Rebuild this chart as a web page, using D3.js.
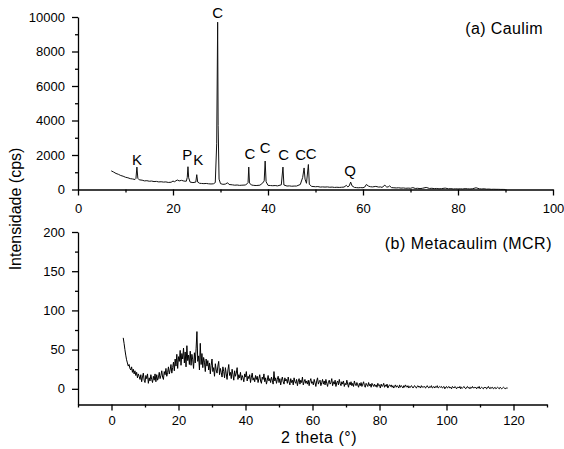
<!DOCTYPE html>
<html>
<head>
<meta charset="utf-8">
<script src="https://cdn.jsdelivr.net/npm/d3@7"></script>
<style>
  body { margin: 0; background: #fff; }
  svg text { font-family: "Liberation Sans", Arial, sans-serif; fill: #000; }
</style>
</head>
<body>
<div id="chart"></div>
<script>
// (a) Caulim: [2theta, intensity cps]
const caulim = [
  [7.0, 1080], [7.5, 1010], [8.0, 930], [8.5, 880], [9.0, 810], [9.5, 770], [10.0, 710], [10.5, 680],
  [11.0, 630], [11.5, 610], [12.0, 580], [12.2, 640], [12.4, 1300], [12.6, 650], [12.9, 560], [13.5, 540],
  [14.0, 500], [14.5, 510], [15.0, 480], [15.5, 490], [16.0, 460], [16.5, 470], [17.0, 440], [17.5, 450],
  [18.0, 430], [18.5, 440], [19.0, 410], [19.6, 420], [20.0, 490], [20.3, 450], [20.9, 550], [21.3, 500],
  [21.8, 530], [22.3, 490], [22.8, 480], [23.0, 700], [23.15, 1320], [23.3, 680], [23.6, 430], [24.2, 400],
  [24.8, 430], [25.0, 860], [25.2, 430], [25.6, 360], [26.0, 350], [26.5, 340], [27.0, 350], [27.5, 330],
  [28.0, 320], [28.5, 330], [28.9, 400], [29.2, 2650], [29.4, 9700], [29.5, 3700], [29.7, 600], [30.0, 340],
  [30.5, 300], [31.0, 310], [31.5, 390], [31.8, 290], [32.5, 270], [33.0, 250], [33.5, 260], [34.0, 240],
  [34.5, 250], [35.3, 260], [35.8, 400], [35.95, 1300], [36.1, 380], [36.5, 260], [37.0, 240], [37.5, 230],
  [38.3, 250], [38.9, 380], [39.2, 500], [39.4, 1650], [39.6, 450], [40.0, 240], [40.5, 230], [41.0, 220],
  [41.5, 230], [42.0, 210], [42.8, 270], [43.15, 1300], [43.35, 260], [44.0, 200], [44.5, 210], [45.0, 190],
  [45.5, 200], [46.0, 200], [46.8, 290], [47.3, 700], [47.6, 1250], [47.8, 600], [48.1, 360], [48.5, 1450],
  [48.7, 300], [49.2, 180], [50.0, 160], [50.5, 170], [51.0, 140], [51.5, 150], [52.0, 140], [52.5, 150],
  [53.0, 130], [53.5, 140], [54.0, 120], [54.5, 130], [55.0, 120], [55.5, 130], [56.0, 140], [56.5, 240],
  [56.8, 150], [57.1, 210], [57.4, 430], [57.7, 210], [58.2, 120], [58.6, 110], [59.0, 100], [59.5, 110],
  [60.0, 100], [60.4, 150], [60.7, 290], [61.2, 190], [61.6, 160], [62.0, 150], [62.7, 180], [63.3, 140],
  [63.7, 150], [64.0, 120], [64.6, 250], [65.0, 140], [65.3, 150], [65.6, 210], [66.0, 110], [66.5, 100],
  [67.0, 90], [67.5, 100], [68.0, 80], [68.5, 90], [69.0, 70], [69.5, 80], [70.0, 70], [70.5, 110],
  [71.0, 60], [71.5, 70], [72.0, 50], [72.5, 70], [73.3, 120], [74.0, 60], [74.5, 70], [75.0, 50],
  [75.5, 60], [76.0, 40], [76.5, 50], [77.3, 80], [78.0, 40], [78.5, 50], [79.0, 30], [79.5, 40],
  [80.0, 30], [80.5, 40], [81.0, 30], [81.5, 50], [82.0, 40], [82.5, 30], [83.0, 40], [83.8, 100],
  [84.5, 40], [85.0, 30], [85.5, 40], [86.0, 20], [86.5, 25], [87.0, 10], [87.5, 15], [88.0, 10],
  [88.5, 10], [89.0, 5], [89.5, 5], [90.0, 0]
];

// peak labels
const peakLabels = ["K", "P", "K", "C", "C", "C", "C", "C", "C", "Q"];
const peakX = [12.4, 23.0, 25.3, 29.4, 36.2, 39.4, 43.3, 46.9, 49.1, 57.3];
const peakY = [1400, 1700, 1400, 9950, 1750, 2100, 1720, 1720, 1790, 780];

// (b) Metacaulim (MCR): intensities sampled every 0.25 deg from 3.5 (one row = 5 deg)
const metaStart = 3.5;
const metaStep = 0.25;
const metacaulim = [
  65, 58, 50, 43, 37, 33, 29, 31, 26, 24, 28, 21, 25, 19, 23, 17, 21, 14, 19, 16,
  12, 18, 9, 15, 20, 11, 8, 17, 13, 19, 7, 14, 10, 18, 12, 8, 16, 11, 19, 9,
  18, 11, 14, 21, 13, 17, 23, 15, 12, 22, 18, 26, 16, 21, 28, 19, 24, 31, 20, 27,
  34, 23, 38, 29, 44, 26, 41, 35, 49, 30, 45, 38, 52, 33, 47, 28, 55, 36, 43, 31,
  48, 30, 44, 37, 26, 46, 33, 51, 73, 35, 42, 24, 58, 31, 45, 27, 40, 34, 22, 38,
  29, 36, 24, 33, 19, 30, 38, 22, 27, 16, 32, 24, 20, 29, 35, 18, 26, 21, 15, 28,
  22, 14, 27, 19, 12, 24, 31, 17, 21, 13, 25, 18, 11, 23, 16, 20, 27, 12, 18, 14,
  21, 11, 17, 14, 9, 19, 15, 22, 10, 16, 13, 18, 8, 15, 20, 11, 14, 9, 17, 12,
  16, 8, 13, 18, 10, 7, 15, 12, 19, 9, 14, 6, 11, 17, 10, 13, 8, 15, 11, 6,
  22, 10, 14, 7, 12, 16, 8, 13, 5, 11, 15, 9, 6, 14, 10, 12, 7, 15, 9, 5,
  13, 8, 11, 5, 14, 9, 7, 12, 4, 10, 13, 6, 11, 8, 15, 5, 9, 12, 7, 10,
  6, 11, 4, 10, 13, 7, 9, 5, 12, 8, 3, 10, 14, 6, 9, 11, 4, 8, 12, 6,
  10, 5, 12, 7, 3, 9, 11, 6, 8, 13, 4, 9, 6, 11, 3, 8, 10, 5, 12, 7,
  4, 9, 6, 10, 3, 7, 5, 11, 6, 2, 8, 5, 9, 4, 7, 3, 10, 6, 4, 8,
  5, 2, 7, 4, 8, 3, 6, 9, 4, 2, 7, 5, 3, 8, 4, 6, 2, 7, 5, 3,
  6, 3, 5, 2, 7, 4, 5, 1, 6, 3, 4, 7, 2, 5, 3, 6, 1, 4, 5, 3,
  5, 2, 4, 1, 3, 5, 2, 4, 3, 1, 5, 2, 4, 3, 1, 4, 2, 5, 3, 2,
  4, 1, 3, 2, 4, 3, 1, 3, 4, 2, 1, 3, 4, 2, 3, 1, 4, 2, 3, 2,
  3, 1, 2, 4, 2, 1, 3, 2, 4, 1, 2, 3, 1, 3, 2, 4, 1, 2, 3, 2,
  3, 1, 2, 3, 0, 2, 3, 1, 2, 3, 1, 2, 0, 3, 2, 1, 3, 2, 0, 2,
  2, 1, 3, 0, 2, 1, 2, 3, 1, 0, 2, 3, 1, 2, 0, 2, 1, 3, 1, 2,
  1, 2, 0, 2, 1, 3, 0, 1, 2, 1, 0, 2, 1, 2, 0, 1, 3, 1, 0, 2,
  1, 2, 0, 1, 2, 0, 1, 2, 1, 0, 2, 1, 0, 1, 2, 1, 0, 1, 1, 1
];

// tick values
const topXTicks = [0, 20, 40, 60, 80, 100];
const topXMinor = [10, 30, 50, 70, 90];
const topYTicks = [0, 2000, 4000, 6000, 8000, 10000];
const topYMinor = [1000, 3000, 5000, 7000, 9000];
const botXTicks = [0, 20, 40, 60, 80, 100, 120];
const botXMinor = [-10, 10, 30, 50, 70, 90, 110, 130];
const botYTicks = [0, 50, 100, 150, 200];
const botYMinor = [25, 75, 125, 175];

const W = 564, H = 449;
const svg = d3.select("#chart").append("svg")
    .attr("width", W)
    .attr("height", H);

// scales
const xTop = d3.scaleLinear().domain([0, 100]).range([78, 553]);
const yTop = d3.scaleLinear().domain([0, 10000]).range([189.5, 17]);
const xBot = d3.scaleLinear().domain([-10, 130]).range([78, 547]);
const yBot = d3.scaleLinear().domain([-20, 200]).range([404.5, 232]);

function drawAxes(x, y, xTicks, xMinor, yTicks, yMinor, xPad) {
    const y0 = y.range()[0];
    const x0 = x.range()[0];
    const gx = svg.append("g")
        .attr("transform", `translate(0,${y0})`)
        .call(d3.axisBottom(x).tickValues(xTicks).tickFormat(d3.format("d"))
            .tickSizeInner(6).tickSizeOuter(0).tickPadding(xPad));
    gx.append("g").call(d3.axisBottom(x).tickValues(xMinor).tickSize(3).tickFormat(""))
        .select(".domain").remove();
    const gy = svg.append("g")
        .attr("transform", `translate(${x0},0)`)
        .call(d3.axisLeft(y).tickValues(yTicks).tickFormat(d3.format("d"))
            .tickSizeInner(6).tickSizeOuter(0).tickPadding(7));
    gy.append("g").call(d3.axisLeft(y).tickValues(yMinor).tickSize(3).tickFormat(""))
        .select(".domain").remove();
    [gx, gy].forEach(g => {
        g.selectAll("text").style("font-size", "13px");
        g.selectAll("path, line").attr("stroke", "#000").attr("stroke-width", 1.3);
    });
}

drawAxes(xTop, yTop, topXTicks, topXMinor, topYTicks, topYMinor, 8);
drawAxes(xBot, yBot, botXTicks, botXMinor, botYTicks, botYMinor, 5);

// top pattern
const lineTop = d3.line().x(d => xTop(d[0])).y(d => yTop(d[1]));
svg.append("path")
    .datum(caulim)
    .attr("d", lineTop)
    .attr("fill", "none")
    .attr("stroke", "#111")
    .attr("stroke-width", 1);

svg.append("g").selectAll("text")
    .data(peakLabels)
    .join("text")
    .attr("x", (d, i) => xTop(peakX[i]))
    .attr("y", (d, i) => yTop(peakY[i]))
    .attr("text-anchor", "middle")
    .style("font-size", "15px")
    .text(d => d);

// bottom pattern
const lineBot = d3.line()
    .x((d, i) => xBot(metaStart + i * metaStep))
    .y(d => yBot(d));
svg.append("path")
    .datum(metacaulim)
    .attr("d", lineBot)
    .attr("fill", "none")
    .attr("stroke", "#000")
    .attr("stroke-width", 1);

// panel titles
svg.append("text")
    .attr("x", 543).attr("y", 34)
    .attr("text-anchor", "end")
    .style("font-size", "16px")
    .style("letter-spacing", "0.4px")
    .text("(a) Caulim");

svg.append("text")
    .attr("x", 552).attr("y", 249)
    .attr("text-anchor", "end")
    .style("font-size", "16px")
    .style("letter-spacing", "0.5px")
    .text("(b) Metacaulim (MCR)");

// axis titles
svg.append("text")
    .attr("transform", "translate(21,209) rotate(-90)")
    .attr("text-anchor", "middle")
    .style("font-size", "16px")
    .text("Intensidade (cps)");

svg.append("text")
    .attr("x", 319).attr("y", 443)
    .attr("text-anchor", "middle")
    .style("font-size", "16px")
    .style("letter-spacing", "0.5px")
    .text("2 theta (°)");
</script>
</body>
</html>
